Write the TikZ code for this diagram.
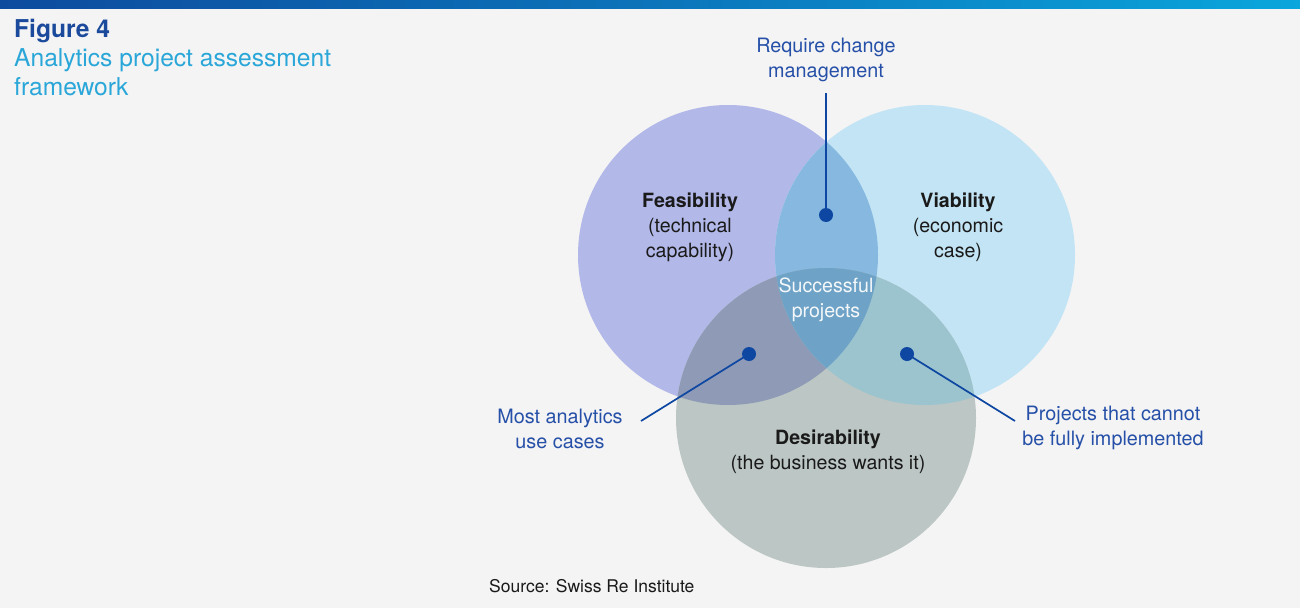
\documentclass[tikz,border=0pt]{standalone}
\usepackage{fontspec}
\setmainfont{TeX Gyre Heros}
\definecolor{bg}{HTML}{F4F4F4}
\definecolor{barL}{HTML}{0D4B9E}
\definecolor{barR}{HTML}{0AA6DC}
\definecolor{feas}{HTML}{B2B8E8}
\definecolor{via}{HTML}{C2E4F4}
\definecolor{des}{HTML}{BCC6C4}
\definecolor{fv}{HTML}{86B8E0}
\definecolor{fd}{HTML}{8E9AB6}
\definecolor{vd}{HTML}{9CC4CE}
\definecolor{fvd}{HTML}{6EA2C6}
\definecolor{lblue}{HTML}{2650A8}
\definecolor{dotc}{HTML}{0D47A1}
\definecolor{titdark}{HTML}{1B4A9C}
\definecolor{titlight}{HTML}{2AA7D8}
\definecolor{darktext}{HTML}{1A1A1A}
\tikzset{
  lbl/.style={text=lblue, align=center, inner sep=0pt, font=\fontsize{19.8}{25}\selectfont},
  circtext/.style={text=darktext, align=center, inner sep=0pt, font=\fontsize{19.6}{25}\selectfont},
  dotn/.style={circle, fill=dotc, inner sep=0pt, minimum size=14pt},
  conn/.style={draw=dotc, line width=1.7pt},
  titl/.style={anchor=base west, inner sep=0pt, font=\fontsize{24.6}{30}\selectfont},
}
\begin{document}
\begin{tikzpicture}[x=1pt,y=-1pt]
\useasboundingbox (0,0) rectangle (1300,608);
\fill[bg] (0,0) rectangle (1300,608);
\shade[left color=barL, right color=barR, middle color=barL!55!barR] (0,0) rectangle (1300,8);
% title
\node[titl, text=titdark, font=\fontsize{24.6}{30}\selectfont\bfseries] (fig) at (14,37) {Figure 4};
\node[titl, text=titlight] (title1) at (14,66) {Analytics project assessment};
\node[titl, text=titlight] (title2) at (14,95) {framework};
% circles
\fill[feas] (728,255) circle (150pt);
\fill[via] (925,255) circle (150pt);
\fill[des] (826,418) circle (150pt);
\begin{scope}\clip (728,255) circle (150pt); \fill[fv] (925,255) circle (150pt); \end{scope}
\begin{scope}\clip (728,255) circle (150pt); \fill[fd] (826,418) circle (150pt); \end{scope}
\begin{scope}\clip (925,255) circle (150pt); \fill[vd] (826,418) circle (150pt); \end{scope}
\begin{scope}\clip (728,255) circle (150pt); \clip (925,255) circle (150pt); \fill[fvd] (826,418) circle (150pt); \end{scope}
% circle texts
\node[circtext] (feasT) at (690,227) {\textbf{Feasibility}\\(technical\\capability)};
\node[circtext] (viaT) at (958,227) {\textbf{Viability}\\(economic\\case)};
\node[circtext] (desT) at (828,452) {\textbf{Desirability}\\(the business wants it)};
\node[circtext, text=white!92!fvd] (succ) at (826,300) {Successful\\projects};
% labels
\node[lbl] (req) at (826,60) {Require change\\management};
\node[lbl] (most) at (560,429) {Most analytics\\use cases};
\node[lbl] (proj) at (1113,428) {Projects that cannot\\be fully implemented};
% dots
\node[dotn] (d1) at (826,215) {};
\node[dotn] (d2) at (749,354) {};
\node[dotn] (d3) at (907,354) {};
\coordinate (e1) at (826,93);
\coordinate (e2) at (641,421);
\coordinate (e3) at (1015,421);
\draw[conn] (e1) -- (d1.center);
\draw[conn] (e2) -- (d2.center);
\draw[conn] (e3) -- (d3.center);
% source
\node[anchor=base west, inner sep=0pt, text=darktext, font=\fontsize{17.5}{20}\selectfont] (src) at (489,592) {Source: Swiss Re Institute};
\end{tikzpicture}
\end{document}
